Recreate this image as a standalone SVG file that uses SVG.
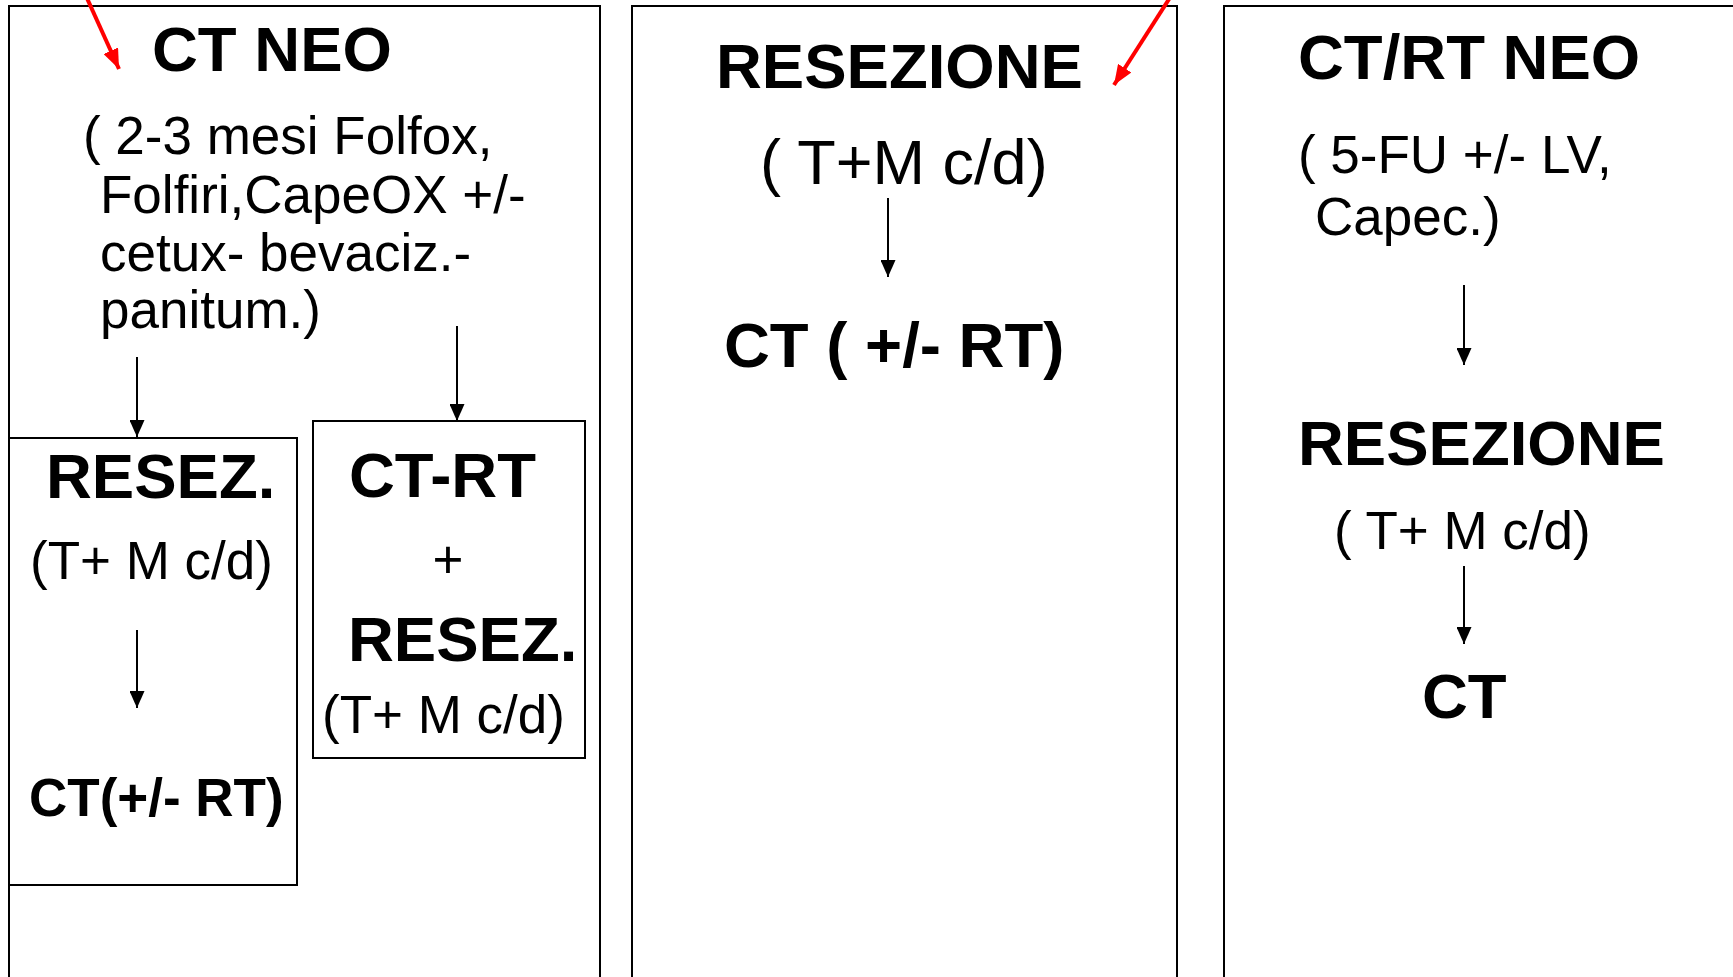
<svg xmlns="http://www.w3.org/2000/svg" width="1733" height="977" viewBox="0 0 1733 977">
  <style>
    .frame { fill: none; stroke: #000; stroke-width: 2; }
    .t { font-family: "Liberation Sans", Arial, sans-serif; fill: #000; }
    .b { font-weight: bold; font-size: 63.5px; }
    .r { font-size: 53px; }
    .rl { font-size: 63px; }
    .flow { stroke: #000; stroke-width: 2; fill: none; marker-end: url(#head); }
    .hint { stroke: #ff0000; stroke-width: 4; fill: none; marker-end: url(#redhead); }
  </style>
  <defs>
    <marker id="head" markerUnits="userSpaceOnUse" markerWidth="17" markerHeight="15" viewBox="0 0 17 15" refX="17" refY="7.5" orient="auto">
      <path d="M0,0 L17,7.5 L0,15 z" fill="#000"/>
    </marker>
    <marker id="redhead" markerUnits="userSpaceOnUse" markerWidth="20" markerHeight="16" viewBox="0 0 20 16" refX="20" refY="8" orient="auto">
      <path d="M0,0 L20,8 L0,16 z" fill="#ff0000"/>
    </marker>
  </defs>

  <rect width="1733" height="977" fill="#fff"/>

  <!-- column 1: neoadjuvant chemotherapy -->
  <g id="col-ct-neo">
    <rect class="frame" x="9" y="6" width="591" height="990"/>
    <text class="t b" x="152" y="71">CT NEO</text>
    <text class="t r" x="83" y="154">( 2-3 mesi Folfox,</text>
    <text class="t r" x="100" y="213">Folfiri,CapeOX +/-</text>
    <text class="t r" x="100" y="271">cetux- bevaciz.-</text>
    <text class="t r" x="100" y="328">panitum.)</text>
  </g>

  <g id="box-resez">
    <rect class="frame" x="9" y="438" width="288" height="447"/>
    <text class="t b" x="46" y="498">RESEZ.</text>
    <text class="t r" x="30" y="579">(T+ M c/d)</text>
    <text class="t" x="29" y="816" style="font-weight:bold;font-size:53px">CT(+/- RT)</text>
  </g>

  <g id="box-ctrt">
    <rect class="frame" x="313" y="421" width="272" height="337"/>
    <text class="t b" x="349" y="497">CT-RT</text>
    <text class="t r" x="448" y="578" text-anchor="middle">+</text>
    <text class="t b" x="348" y="661">RESEZ.</text>
    <text class="t r" x="322" y="733">(T+ M c/d)</text>
  </g>

  <!-- column 2: upfront resection -->
  <g id="col-resezione">
    <rect class="frame" x="632" y="6" width="545" height="990"/>
    <text class="t b" x="716" y="88">RESEZIONE</text>
    <text class="t rl" x="760" y="184">( T+M c/d)</text>
    <text class="t b" x="724" y="367">CT ( +/- RT)</text>
  </g>

  <!-- column 3: neoadjuvant chemoradiotherapy -->
  <g id="col-ctrt-neo">
    <rect class="frame" x="1224" y="6" width="560" height="990"/>
    <text class="t b" x="1298" y="79">CT/RT NEO</text>
    <text class="t r" x="1298" y="173">( 5-FU +/- LV,</text>
    <text class="t r" x="1315" y="235">Capec.)</text>
    <text class="t b" x="1298" y="465">RESEZIONE</text>
    <text class="t r" x="1334" y="549">( T+ M c/d)</text>
    <text class="t b" x="1422" y="718">CT</text>
  </g>

  <!-- connectors -->
  <g id="connectors">
    <line class="flow" x1="137" y1="357" x2="137" y2="437"/>
    <line class="flow" x1="457" y1="326" x2="457" y2="421"/>
    <line class="flow" x1="137" y1="630" x2="137" y2="708"/>
    <line class="flow" x1="888" y1="198" x2="888" y2="277"/>
    <line class="flow" x1="1464" y1="285" x2="1464" y2="365"/>
    <line class="flow" x1="1464" y1="566" x2="1464" y2="644"/>
    <line class="hint" x1="86" y1="-4" x2="119" y2="69"/>
    <line class="hint" x1="1171" y1="-4" x2="1114" y2="85"/>
  </g>
</svg>
